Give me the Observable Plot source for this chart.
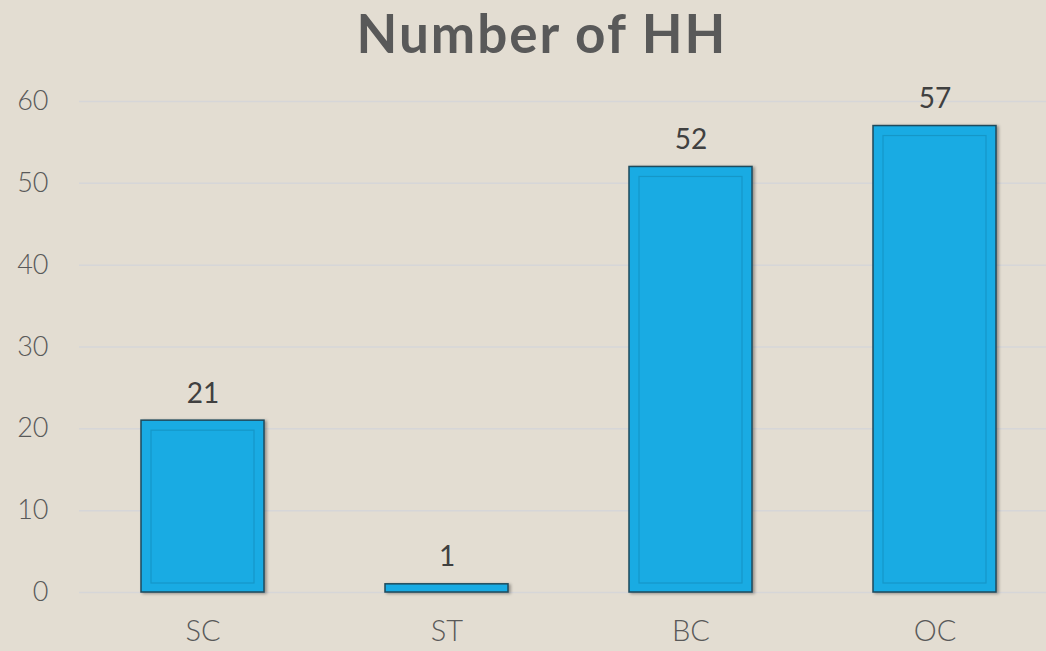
<!DOCTYPE html>
<html>
<head>
<meta charset="utf-8">
<script src="https://cdn.jsdelivr.net/npm/d3@7"></script>
<script src="https://cdn.jsdelivr.net/npm/@observablehq/plot@0.6"></script>
<style>
  html, body { margin: 0; padding: 0; background: #E3DDD2; }
  #wrap { width: 1046px; height: 651px; overflow: hidden; background: #E3DDD2; }
  #title { height: 70px; line-height: 66px; font-family: Lato, sans-serif; font-weight: 700; font-size: 53px; letter-spacing: 2px; color: #595959; text-align: center; padding-left: 38px; box-sizing: border-box; }
  .bars rect { filter: drop-shadow(2px 1px 1.5px rgba(0,0,0,0.35)); }
</style>
</head>
<body>
<div id="wrap">
  <div id="title">Number of HH</div>
  <div id="chart"></div>
</div>
<script>
const categories = ["SC", "ST", "BC", "OC"];
const values = [21, 1, 52, 57];
const yTicks = [0, 10, 20, 30, 40, 50, 60];

const data = categories.map((c, i) => ({cat: c, v: values[i]}));

const chart = Plot.plot({
  width: 1046,
  height: 581,
  marginLeft: 79,
  marginRight: 0,
  marginTop: 31,
  marginBottom: 59,
  style: {background: "transparent", fontFamily: "Lato, sans-serif", fontWeight: 300, overflow: "visible"},
  x: {domain: categories, range: [79, 1058], paddingInner: 0.494, paddingOuter: 0.245, label: null, tickSize: 0, tickPadding: 28},
  y: {domain: [0, 60], ticks: yTicks, label: null, tickSize: 0, tickPadding: 31},
  marks: [
    Plot.ruleY(yTicks, {stroke: "#D6D6D8", strokeWidth: 1.5}),
    Plot.axisY({ticks: yTicks, tickSize: 0, tickPadding: 31, fontSize: 27, fill: "#595959", label: null}),
    Plot.axisX({tickSize: 0, tickPadding: 28, fontSize: 29, fill: "#595959", label: null}),
    Plot.barY(data, {x: "cat", y: "v", fill: "#19ABE3", stroke: "#1E4A5C", strokeWidth: 1.5, className: "bars"}),
    Plot.barY(data.filter(d => d.v >= 3), {x: "cat", y: "v", fill: "none", stroke: "#1597C8", strokeWidth: 1.2, insetLeft: 10, insetRight: 10, insetTop: 10, insetBottom: 9}),
    Plot.text(data, {x: "cat", y: "v", text: d => String(d.v), lineAnchor: "bottom", dy: -18, fontSize: 28, fontWeight: 400, fill: "#404040"})
  ]
});
document.getElementById("chart").appendChild(chart);
</script>
</body>
</html>
